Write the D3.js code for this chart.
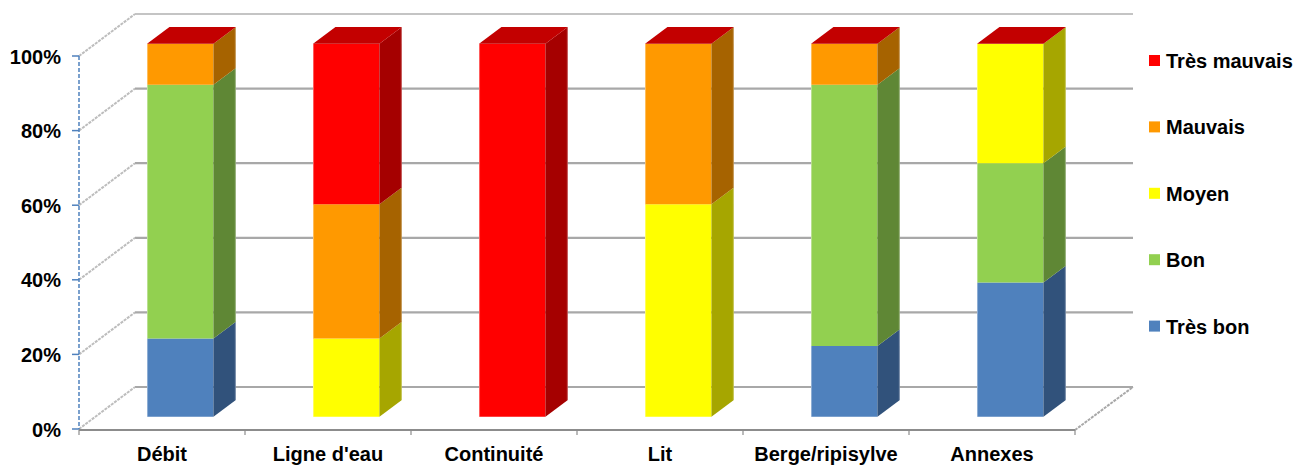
<!DOCTYPE html>
<html>
<head>
<meta charset="utf-8">
<script src="https://cdn.jsdelivr.net/npm/d3@7/dist/d3.min.js"></script>
<style>
  html, body { margin: 0; padding: 0; background: #fff; }
  svg text { font-family: "Liberation Sans", Arial, sans-serif; font-weight: bold; fill: #000; }
</style>
</head>
<body>
<svg id="chart" width="1309" height="466"></svg>
<script>
// Categories (x axis)
const categories = ["Débit", "Ligne d'eau", "Continuité", "Lit", "Berge/ripisylve", "Annexes"];

// Series, stacked bottom to top (percent)
const seriesNames = ["Très bon", "Bon", "Moyen", "Mauvais", "Très mauvais"];
const tresBon     = [21,  0,   0,  0, 19, 36];
const bon         = [68,  0,   0,  0, 70, 32];
const moyen       = [ 0, 21,   0, 57,  0, 32];
const mauvais     = [11, 36,   0, 43, 11,  0];
const tresMauvais = [ 0, 43, 100,  0,  0,  0];

// Y axis tick labels
const yTicks = [0, 20, 40, 60, 80, 100];
const yTickLabels = ["0%", "20%", "40%", "60%", "80%", "100%"];

// Face colours per series: front, side, top
const palette = {
  "Très bon":     { front: "#4F81BD", side: "#31527B", top: "#3F6797" },
  "Bon":          { front: "#92D050", side: "#5F8735", top: "#76A840" },
  "Moyen":        { front: "#FFFF00", side: "#A6A600", top: "#CCCC00" },
  "Mauvais":      { front: "#FF9900", side: "#A66300", top: "#CC7A00" },
  "Très mauvais": { front: "#FF0000", side: "#A50000", top: "#C30000" }
};

const seriesValues = [tresBon, bon, moyen, mauvais, tresMauvais];
const rows = categories.map((c, i) => {
  const r = { category: c };
  seriesNames.forEach((s, k) => r[s] = seriesValues[k][i]);
  return r;
});
const stacked = d3.stack().keys(seriesNames)(rows);

const svg = d3.select("#chart");

// Front plane scales
const x = d3.scaleBand().domain(categories).range([79, 1075])
  .paddingInner(0.6).paddingOuter(0.3);
const y = d3.scaleLinear().domain([0, 100]).range([429, 56]);

// Oblique depth: full depth vector of the plot box
const DEPTH = { dx: 56, dy: -42 };
const proj = (px, py, d) => [px + DEPTH.dx * d, py + DEPTH.dy * d];
const D0 = 0.29, D1 = 0.69; // bar front / back depth
const xLeft = 79, xRight = 1075;
const FONT = "20px";

const poly = pts => "M" + pts.map(p => p.join(",")).join("L") + "Z";

// Back wall gridlines
const gBack = svg.append("g");
yTicks.forEach(t => {
  const a = proj(xLeft, y(t), 1), b = proj(xRight + 2, y(t), 1);
  gBack.append("line")
    .attr("x1", a[0]).attr("y1", a[1]).attr("x2", b[0]).attr("y2", b[1])
    .attr("stroke", t === 100 ? "#C4C4C4" : "#A8A8A8").attr("stroke-width", 2.2);
});

// Side wall depth lines from each front tick
yTicks.forEach(t => {
  const a = proj(xLeft, y(t), 0), b = proj(xLeft, y(t), 1);
  gBack.append("line")
    .attr("x1", a[0]).attr("y1", a[1]).attr("x2", b[0]).attr("y2", b[1])
    .attr("stroke", "#BDBDBD").attr("stroke-width", 2)
    .attr("stroke-dasharray", "3,1");
});

// Floor right depth edge
{
  const a = proj(xRight, y(0), 0), b = proj(xRight, y(0), 1);
  gBack.append("line")
    .attr("x1", a[0]).attr("y1", a[1] + 1).attr("x2", b[0] + 2).attr("y2", b[1])
    .attr("stroke", "#A8A8A8").attr("stroke-width", 2)
    .attr("stroke-dasharray", "3,1");
}

// Bars: each segment drawn as front, side and top faces
const gBars = svg.append("g");
categories.forEach((c, i) => {
  const xl = x(c) + 2, xr = xl + x.bandwidth();
  stacked.forEach(layer => {
    const seg = layer[i];
    const v0 = seg[0], v1 = seg[1];
    const col = palette[layer.key];
    const yb = y(v0), yt = y(v1);
    if (v1 - v0 > 0) {
      const f = [proj(xl, yb, D0), proj(xr, yb, D0), proj(xr, yt, D0), proj(xl, yt, D0)];
      gBars.append("path").attr("d", poly(f)).attr("fill", col.front);
      const s = [proj(xr, yb, D0), proj(xr, yb, D1), proj(xr, yt, D1), proj(xr, yt, D0)];
      gBars.append("path").attr("d", poly(s)).attr("fill", col.side);
      // light edges of the faces
      gBars.append("line")
        .attr("x1", f[0][0] + 0.5).attr("y1", f[0][1]).attr("x2", f[3][0] + 0.5).attr("y2", f[3][1])
        .attr("stroke", "#fff").attr("stroke-opacity", 0.35).attr("stroke-width", 1);
      gBars.append("line")
        .attr("x1", s[1][0] - 0.5).attr("y1", s[1][1]).attr("x2", s[2][0] - 0.5).attr("y2", s[2][1])
        .attr("stroke", "#fff").attr("stroke-opacity", 0.3).attr("stroke-width", 1);
    }
  });
  // Top cap belongs to the last series of the stack
  const last = stacked[stacked.length - 1];
  const yt = y(last[i][1]);
  const top = [proj(xl, yt, D0), proj(xr, yt, D0), proj(xr, yt, D1), proj(xl, yt, D1)];
  gBars.append("path").attr("d", poly(top)).attr("fill", palette[last.key].top);
});

// Floor front edge with category separators
const gAxis = svg.append("g");
gAxis.append("line")
  .attr("x1", xLeft).attr("y1", y(0) + 1).attr("x2", xRight).attr("y2", y(0) + 1)
  .attr("stroke", "#8C8C8C").attr("stroke-width", 2);
const step = x.step();
d3.range(categories.length + 1).forEach(k => {
  const px = xLeft + k * step;
  gAxis.append("line")
    .attr("x1", px).attr("y1", y(0) + 1).attr("x2", px).attr("y2", y(0) + 6)
    .attr("stroke", "#8C8C8C").attr("stroke-width", 1.2);
});

// Vertical value axis
gAxis.append("line")
  .attr("x1", xLeft).attr("y1", y(100)).attr("x2", xLeft).attr("y2", y(0))
  .attr("stroke", "#4F81BD").attr("stroke-width", 1.5).attr("stroke-dasharray", "4,2");
yTicks.forEach((t, k) => {
  gAxis.append("line")
    .attr("x1", xLeft - 7).attr("y1", y(t)).attr("x2", xLeft).attr("y2", y(t))
    .attr("stroke", "#4F81BD").attr("stroke-width", 1.5);
  gAxis.append("text")
    .attr("x", 61).attr("y", y(t) + 7.5)
    .attr("text-anchor", "end").attr("font-size", FONT)
    .text(yTickLabels[k]);
});

// Category labels
categories.forEach(c => {
  gAxis.append("text")
    .attr("x", x(c) + x.bandwidth() / 2).attr("y", 461)
    .attr("text-anchor", "middle").attr("font-size", FONT)
    .text(c);
});

// Legend, top series first
const legendOrder = seriesNames.slice().reverse();
const gLeg = svg.append("g");
legendOrder.forEach((s, k) => {
  const cy = 60.5 + k * 66.4;
  gLeg.append("rect")
    .attr("x", 1149).attr("y", cy - 5.5).attr("width", 11).attr("height", 11)
    .attr("fill", palette[s].front);
  gLeg.append("text")
    .attr("x", 1166).attr("y", cy + 7.5).attr("font-size", FONT)
    .text(s);
});
</script>
</body>
</html>
